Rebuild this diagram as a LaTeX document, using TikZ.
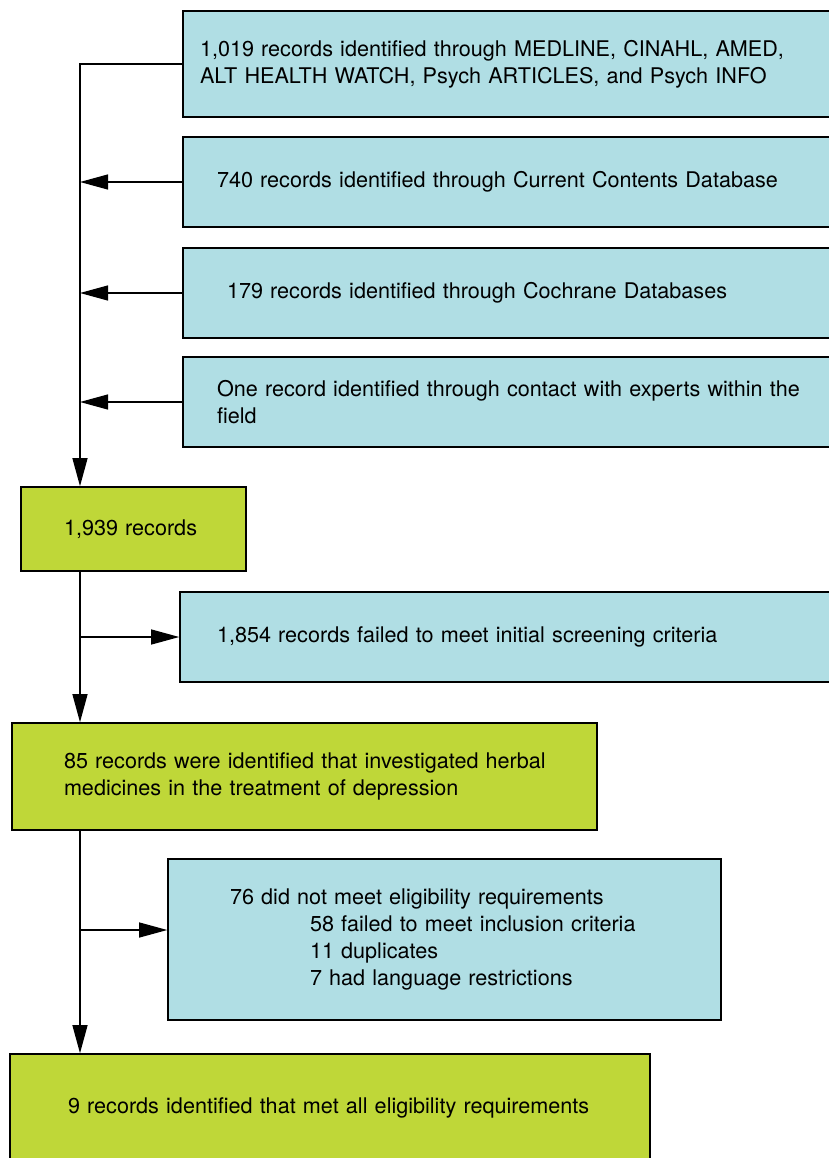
\documentclass[tikz,border=0pt]{standalone}
\usepackage{fontspec}
\setmainfont{TeX Gyre Heros}
\usepackage{xcolor}
\usetikzlibrary{arrows.meta}
\definecolor{boxblue}{RGB}{176,222,228}
\definecolor{boxgreen}{RGB}{191,215,56}
\tikzset{every picture/.style={x=1pt,y=-1pt},
  box/.style={rectangle, draw=black, line width=1.6pt, align=left, font=\fontsize{21.6}{27}\selectfont, inner ysep=0pt},
  bluebox/.style={box, fill=boxblue},
  greenbox/.style={box, fill=boxgreen},
  flow/.style={line width=1.2pt, -{Triangle[length=28pt,width=15pt]}}}

\begin{document}
\begin{tikzpicture}
        \useasboundingbox (0, 0) rectangle (829, 1158);
        \node[bluebox, minimum height=106pt, inner xsep=17pt, text width=618pt] (rec1) at (509, 64) {1,019 records identified through MEDLINE, CINAHL, AMED,\\ALT HEALTH WATCH, Psych ARTICLES, and Psych INFO};
        \node[bluebox, minimum height=90pt, inner xsep=34pt, text width=584pt] (rec2) at (509, 182) {740 records identified through Current Contents Database};
        \node[bluebox, minimum height=90pt, inner xsep=44pt, text width=564pt] (rec3) at (509, 293) {179 records identified through Cochrane Databases};
        \node[bluebox, minimum height=90pt, inner xsep=34pt, text width=584pt] (rec4) at (509, 402) {One record identified through contact with experts within the\\field};
        \node[greenbox, minimum height=84pt, inner xsep=43pt, text width=139pt] (all) at (133.5, 529) {1,939 records};
        \node[bluebox, minimum height=90pt, inner xsep=37pt, text width=581pt] (excl1) at (507.5, 637) {1,854 records failed to meet initial screening criteria};
        \node[greenbox, minimum height=107pt, inner xsep=52pt, text width=481pt] (herbal) at (304.5, 776.5) {\mbox{85 records were identified that investigated herbal}\\medicines in the treatment of depression};
        \node[bluebox, minimum height=161pt, inner xsep=62pt, text width=429pt] (excl2) at (444.5, 939.5) {76 did not meet eligibility requirements\\
          \hspace*{80pt}58 failed to meet inclusion criteria\\
          \hspace*{80pt}11 duplicates\\
          \hspace*{80pt}7 had language restrictions};
        \node[greenbox, minimum height=108pt, inner xsep=58pt, text width=524pt] (final) at (330, 1108) {9 records identified that met all eligibility requirements};
        \coordinate (top) at (80, 64);

        % sources join the trunk
        \draw[flow] (rec1.west) -- (top) -- (top |- all.north);
        \foreach \from in {rec2, rec3, rec4}
        \draw[flow] (\from.west) -- (top |- \from.west);

        % screening steps
        \draw[flow] (top |- all.south) -- (top |- herbal.north);
        \draw[flow] (top |- excl1.west) -- (excl1.west);
        \draw[flow] (top |- herbal.south) -- (top |- final.north);
        \draw[flow] ([yshift=9.5pt]top |- excl2.west) -- ([yshift=9.5pt]excl2.west);
      \end{tikzpicture}
\end{document}
